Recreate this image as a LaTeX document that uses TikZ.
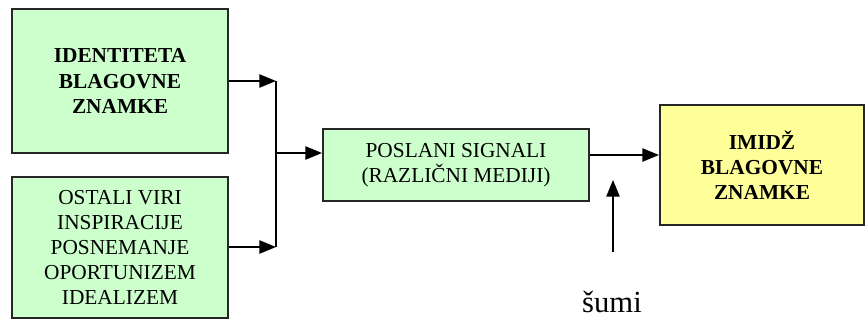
\documentclass[tikz,border=0pt]{standalone}
\usepackage{fontspec}
\setmainfont{Liberation Serif}
\usetikzlibrary{arrows.meta}
\definecolor{boxgreen}{HTML}{CCFFCC}
\definecolor{boxyellow}{HTML}{FFFF99}
\tikzstyle{block}=[draw=black!85,line width=1.5pt,align=center,inner sep=0pt,
  font=\fontsize{16}{18.9}\selectfont]
\tikzstyle{link}=[line width=1.1pt,-{Triangle[length=12.5pt,width=10pt]}]

\begin{document}
\begin{tikzpicture}[x=0.75pt,y=-0.75pt]
  \useasboundingbox (0,0) rectangle (865,322);

  % Source boxes.
  \node[block,fill=boxgreen,minimum width=162pt,minimum height=108pt,
    font=\fontsize{16}{18.9}\selectfont\bfseries]
    (idn) at (120,81) {IDENTITETA\\BLAGOVNE\\ZNAMKE};
  \node[block,fill=boxgreen,minimum width=162pt,minimum height=105.75pt]
    (ost) at (120,247.5)
    {OSTALI VIRI\\INSPIRACIJE\\POSNEMANJE\\OPORTUNIZEM\\IDEALIZEM};

  % Signal and image boxes.
  \node[block,fill=boxgreen,minimum width=199.5pt,minimum height=54pt]
    (sig) at (456,165) {POSLANI SIGNALI\\(RAZLI\v{C}NI MEDIJI)};
  \node[block,fill=boxyellow,minimum width=153pt,minimum height=90pt,
    font=\fontsize{16}{18.9}\selectfont\bfseries]
    (img) at (762,165) {IMID\v{Z}\\BLAGOVNE\\ZNAMKE};

  % Merge points.
  \coordinate (topin) at (276,81);
  \coordinate (botin) at (276,247);
  \coordinate (merge) at (276,153);
  \coordinate (tap) at (613,155);

  % Inputs.
  \draw[link] (idn.east) -- (topin);
  \draw[link] (ost.east |- botin) -- (botin);
  \draw[line width=1.1pt] (topin) -- (botin);
  \draw[link] (merge) -- (sig.west |- merge);

  % Output.
  \draw[link] (sig.east |- tap) -- (img.west |- tap);

  % Noise.
  \coordinate (noise) at (613,252);
  \coordinate (noisetip) at (613,180);
  \draw[link] (noise) -- (noisetip);
  \node[font=\fontsize{23}{27}\selectfont] (sumi) at (612,302) {šumi};
\end{tikzpicture}
\end{document}
